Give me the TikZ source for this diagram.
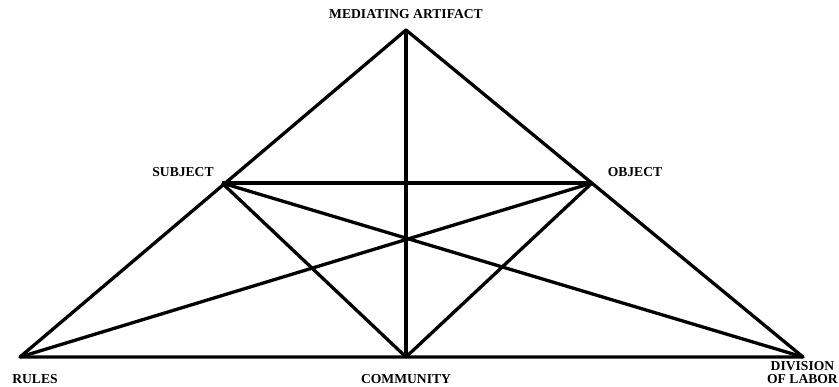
\documentclass[tikz,border=0pt]{standalone}
\usepackage{fontspec}
\setmainfont{Liberation Serif}
\usetikzlibrary{positioning}

\begin{document}
\begin{tikzpicture}[x=1pt,y=-1pt,line join=round,
  edge/.style={line width=3.3pt,black},
  lbl/.style={font=\fontsize{13.6}{13}\selectfont\bfseries,inner sep=0pt,align=center}]
\useasboundingbox (0,0) rectangle (839,386);
% corners of the triangle
\coordinate (art) at (406,30);
\coordinate (sub) at (222,183);
\coordinate (obj) at (592,183);
\coordinate (rul) at (20,357);
\coordinate (com) at (406,357);
\coordinate (div) at (803,357);
% outer triangle
\draw[edge] (rul)--(art)--(div)--cycle;
% inner lines
\draw[edge] (sub)--(obj);
\draw[edge] (art)--(com);
\draw[edge] (sub)--(com)--(obj);
\draw[edge] (sub)--(div);
\draw[edge] (obj)--(rul);
% labels
\node[lbl] (artL) at (406,14) {MEDIATING ARTIFACT};
\node[lbl] (subL) at (183,172) {SUBJECT};
\node[lbl] (objL) at (635,172) {OBJECT};
\node[lbl] (rulL) at (35,379) {RULES};
\node[lbl] (comL) at (406,379) {COMMUNITY};
\node[lbl,anchor=east] (divL) at (838,373) {DIVISION\\OF LABOR};
\end{tikzpicture}
\end{document}
